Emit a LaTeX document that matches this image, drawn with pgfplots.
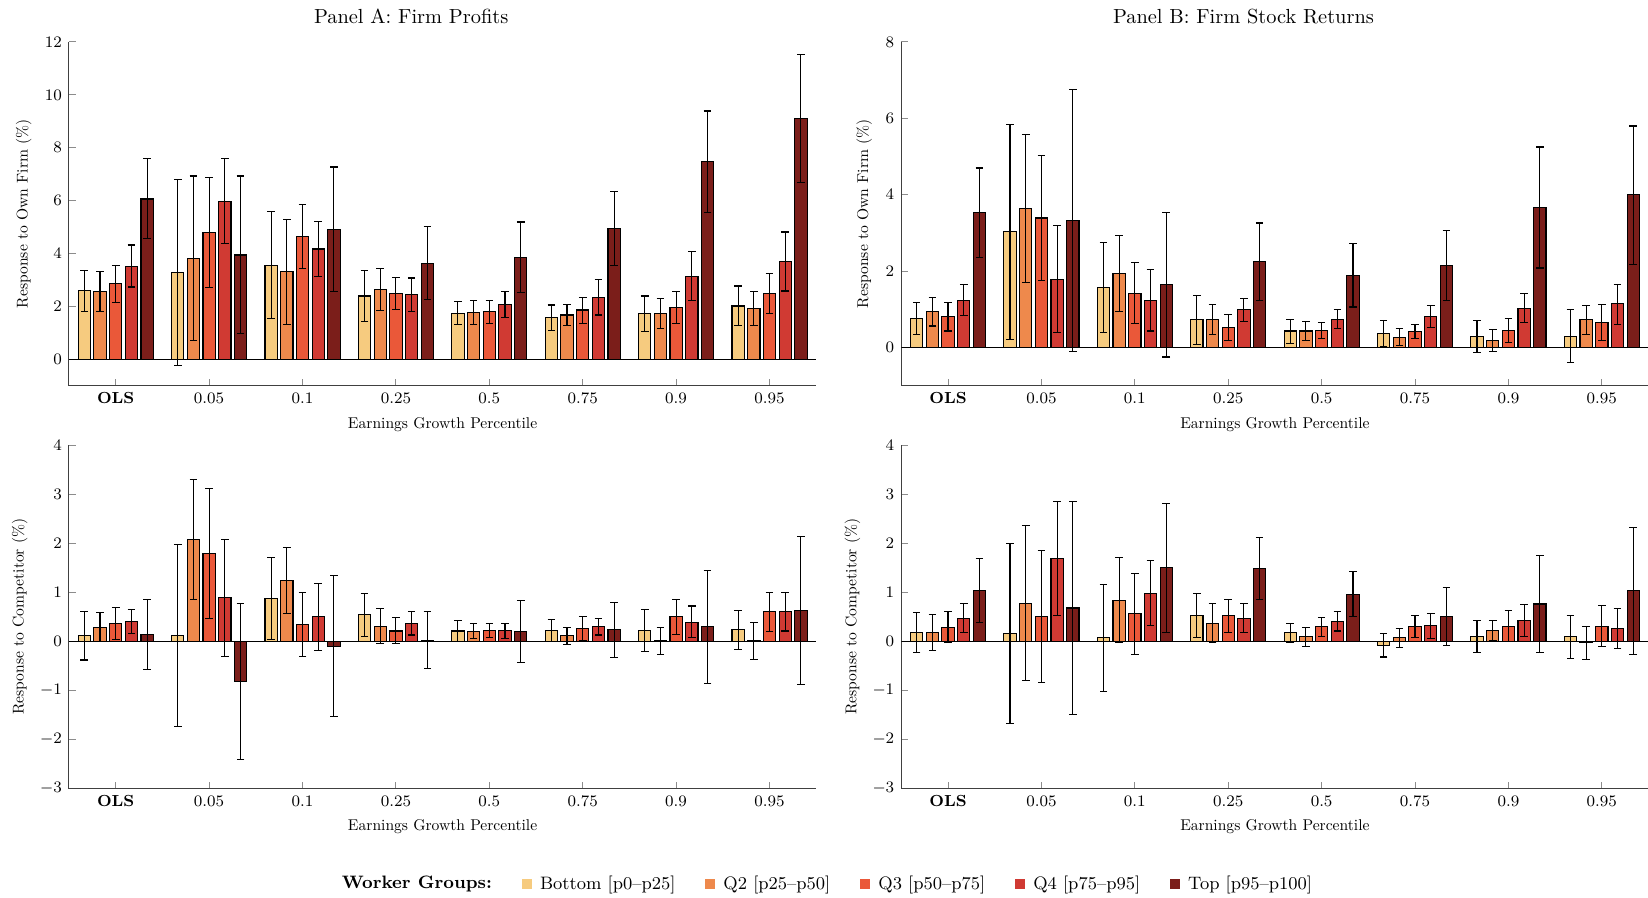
\documentclass[border=0pt]{standalone}
\usepackage{graphicx}
\usepackage{pgfplots}
\usepackage{pgfplotstable}
\pgfplotsset{compat=1.18}

\definecolor{cB}{HTML}{F6CB7F}
\definecolor{cQ}{HTML}{EE894C}
\definecolor{cR}{HTML}{EA5839}
\definecolor{cS}{HTML}{D03A33}
\definecolor{cT}{HTML}{7B1E1A}

% columns: x | Bottom (y hi lo) | Q2 | Q3 | Q4 | Top
\pgfplotstableread{
x b bh bl c ch cl d dh dl e eh el f fh fl
0 2.59 3.37 1.81  2.56 3.33 1.81  2.85 3.55 2.15  3.51 4.32 2.73  6.06 7.58 4.55
1 3.28 6.79 -0.24 3.81 6.93 0.71  4.79 6.86 2.71  5.97 7.58 4.37  3.94 6.93 0.96
2 3.56 5.59 1.54  3.30 5.30 1.30  4.63 5.85 3.43  4.17 5.21 3.12  4.91 7.27 2.55
3 2.39 3.35 1.44  2.64 3.42 1.84  2.50 3.08 1.89  2.44 3.07 1.81  3.62 5.01 2.26
4 1.74 2.18 1.31  1.78 2.23 1.31  1.81 2.23 1.36  2.07 2.56 1.59  3.86 5.19 2.51
5 1.58 2.05 1.07  1.67 2.07 1.28  1.86 2.35 1.36  2.35 3.03 1.67  4.96 6.36 3.56
6 1.72 2.39 1.05  1.74 2.31 1.16  1.97 2.56 1.36  3.14 4.07 2.23  7.47 9.39 5.56
7 2.01 2.77 1.26  1.93 2.55 1.29  2.47 3.24 1.72  3.70 4.81 2.58  9.10 11.53 6.70
}\tabA

\pgfplotstableread{
x b bh bl c ch cl d dh dl e eh el f fh fl
0 0.76 1.18 0.34  0.93 1.31 0.56  0.80 1.17 0.43  1.24 1.65 0.83  3.53 4.70 2.35
1 3.03 5.84 0.20  3.64 5.58 1.69  3.39 5.03 1.76  1.79 3.20 0.38  3.33 6.76 -0.10
2 1.57 2.75 0.39  1.94 2.93 0.93  1.42 2.22 0.63  1.24 2.04 0.43  1.64 3.54 -0.25
3 0.72 1.35 0.08  0.74 1.13 0.35  0.53 0.86 0.18  0.99 1.29 0.68  2.25 3.26 1.24
4 0.43 0.73 0.11  0.43 0.67 0.17  0.45 0.65 0.23  0.74 1.00 0.49  1.89 2.73 1.06
5 0.37 0.71 0.03  0.27 0.50 0.04  0.42 0.61 0.23  0.82 1.10 0.53  2.15 3.07 1.22
6 0.29 0.71 -0.14 0.19 0.47 -0.10 0.45 0.76 0.12  1.03 1.41 0.65  3.67 5.25 2.08
7 0.29 0.99 -0.40 0.72 1.09 0.35  0.66 1.13 0.17  1.14 1.65 0.61  4.00 5.80 2.18
}\tabB

\pgfplotstableread{
x b bh bl c ch cl d dh dl e eh el f fh fl
0 0.12 0.61 -0.38 0.29 0.58 -0.01 0.37 0.69 0.03  0.40 0.65 0.16  0.14 0.86 -0.58
1 0.12 1.98 -1.73 2.08 3.30 0.86  1.79 3.12 0.47  0.89 2.08 -0.31 -0.81 0.78 -2.40
2 0.88 1.70 0.04  1.24 1.92 0.56  0.35 0.99 -0.31 0.50 1.18 -0.19 -0.10 1.34 -1.53
3 0.54 0.97 0.09  0.31 0.67 -0.04 0.21 0.48 -0.05 0.37 0.60 0.13  0.02 0.60 -0.56
4 0.21 0.42 -0.01 0.20 0.36 0.05  0.22 0.37 0.07  0.22 0.37 0.06  0.20 0.84 -0.43
5 0.22 0.45 -0.01 0.11 0.29 -0.07 0.26 0.50 0.02  0.30 0.46 0.13  0.24 0.80 -0.33
6 0.22 0.65 -0.21 0.01 0.28 -0.26 0.50 0.86 0.14  0.39 0.72 0.07  0.30 1.45 -0.86
7 0.24 0.62 -0.16 0.01 0.38 -0.37 0.60 1.00 0.20  0.60 0.99 0.21  0.63 2.14 -0.88
}\tabC

\pgfplotstableread{
x b bh bl c ch cl d dh dl e eh el f fh fl
0 0.18 0.58 -0.22 0.18 0.54 -0.18 0.29 0.60 -0.03 0.47 0.77 0.18  1.03 1.68 0.39
1 0.16 1.99 -1.67 0.77 2.36 -0.80 0.51 1.85 -0.83 1.68 2.84 0.52  0.68 2.85 -1.49
2 0.07 1.15 -1.03 0.84 1.70 -0.02 0.56 1.38 -0.27 0.98 1.64 0.32  1.50 2.81 0.18
3 0.53 0.97 0.08  0.37 0.77 -0.03 0.52 0.85 0.18  0.47 0.77 0.18  1.49 2.11 0.86
4 0.18 0.37 -0.02 0.09 0.28 -0.10 0.30 0.49 0.10  0.41 0.60 0.21  0.96 1.43 0.50
5 -0.08 0.16 -0.32 0.07 0.26 -0.12 0.30 0.52 0.07 0.32 0.57 0.06  0.51 1.10 -0.08
6 0.10 0.42 -0.22 0.22 0.42 0.01  0.30 0.62 -0.01 0.43 0.75 0.10  0.76 1.75 -0.22
7 0.10 0.53 -0.35 -0.02 0.31 -0.37 0.31 0.73 -0.11 0.26 0.67 -0.15 1.03 2.32 -0.26
}\tabD

\newcommand{\lbl}[1]{\scalebox{0.78}{\normalsize #1}}

\pgfplotsset{
  panel/.style={
    scale only axis, width=373.6pt, height=171.8pt,
    anchor=north west,
    ybar=1.7pt, bar width=6.15pt,
    xmin=-0.5, xmax=7.5,
    xtick={0,...,7},
    xticklabels={\textbf{OLS},0.05,0.1,0.25,0.5,0.75,0.9,0.95},
    axis x line*=bottom, axis y line*=left,
    axis line style={-, black!75, line width=0.5pt},
    tick align=inside,
    major tick style={black!45, line width=0.5pt},
    major tick length=3.5pt,
    tick label style={font=\footnotesize},
    xlabel={\lbl{Earnings Growth Percentile}},
    xlabel style={at={(axis description cs:0.5,-0.114)}, anchor=center},
    title style={at={(0.458,1)}, anchor=base, yshift=3.2pt, font=\fontsize{10.2}{12}\selectfont},
  },
  grp/.style={fill=#1, draw=black, line width=0.55pt,
    error bars/.cd, y dir=both, y explicit,
    error bar style={black, line width=0.55pt},
    error mark options={rotate=90, black, line width=0.55pt, mark size=1.9pt}},
}

\newcommand{\fivebars}[1]{%
  \draw[black, line width=0.5pt] (axis cs:-0.5,0) -- (axis cs:7.5,0);
  \addplot[grp=cB] table[x=x, y=b, y error plus expr=\thisrow{bh}-\thisrow{b}, y error minus expr=\thisrow{b}-\thisrow{bl}]{#1};
  \addplot[grp=cQ] table[x=x, y=c, y error plus expr=\thisrow{ch}-\thisrow{c}, y error minus expr=\thisrow{c}-\thisrow{cl}]{#1};
  \addplot[grp=cR] table[x=x, y=d, y error plus expr=\thisrow{dh}-\thisrow{d}, y error minus expr=\thisrow{d}-\thisrow{dl}]{#1};
  \addplot[grp=cS] table[x=x, y=e, y error plus expr=\thisrow{eh}-\thisrow{e}, y error minus expr=\thisrow{e}-\thisrow{el}]{#1};
  \addplot[grp=cT] table[x=x, y=f, y error plus expr=\thisrow{fh}-\thisrow{f}, y error minus expr=\thisrow{f}-\thisrow{fl}]{#1};
}

\begin{document}
\begin{tikzpicture}

\begin{axis}[panel, at={(34.5pt,-21pt)},
  ymin=-1, ymax=12, ytick={0,2,...,12},
  title={Panel A: Firm Profits},
  ylabel={\lbl{Response to Own Firm (\%)}},
  ylabel style={at={(axis description cs:-0.0605,0.5)}, anchor=center}]
\fivebars{\tabA}
\end{axis}

\begin{axis}[panel, at={(450.65pt,-21pt)},
  ymin=-1, ymax=8, ytick={0,2,...,8},
  title={Panel B: Firm Stock Returns},
  ylabel={\lbl{Response to Own Firm (\%)}},
  ylabel style={at={(axis description cs:-0.0495,0.5)}, anchor=center}]
\fivebars{\tabB}
\end{axis}

\begin{axis}[panel, at={(34.5pt,-222.5pt)},
  xlabel style={at={(axis description cs:0.5,-0.110)}},
  ymin=-3, ymax=4, ytick={-3,...,4},
  ylabel={\lbl{Response to Competitor (\%)}},
  ylabel style={at={(axis description cs:-0.066,0.5)}, anchor=center}]
\fivebars{\tabC}
\end{axis}

\begin{axis}[panel, at={(450.65pt,-222.5pt)},
  xlabel style={at={(axis description cs:0.5,-0.110)}},
  ymin=-3, ymax=4, ytick={-3,...,4},
  ylabel={\lbl{Response to Competitor (\%)}},
  ylabel style={at={(axis description cs:-0.0655,0.5)}, anchor=center}]
\fivebars{\tabD}
\end{axis}

% legend
\begin{axis}[at={(412.5pt,-442pt)}, anchor=center, hide axis, scale only axis,
  width=10pt, height=10pt, xmin=0, xmax=1, ymin=0, ymax=1,
  legend columns=-1,
  legend image code/.code={\fill[#1] (0pt,-2.6pt) rectangle (5.2pt,2.6pt);},
  legend style={at={(0.5,0.5)}, anchor=center, draw=none, fill=none, font=\small,
    /tikz/every odd column/.append style={column sep=2pt},
    /tikz/every even column/.append style={column sep=12.8pt}}]
\addlegendimage{empty legend}
\addlegendentry{\textbf{Worker Groups:}}
\addlegendimage{fill=cB, draw=none}
\addlegendentry{Bottom [p0--p25]}
\addlegendimage{fill=cQ, draw=none}
\addlegendentry{Q2 [p25--p50]}
\addlegendimage{fill=cR, draw=none}
\addlegendentry{Q3 [p50--p75]}
\addlegendimage{fill=cS, draw=none}
\addlegendentry{Q4 [p75--p95]}
\addlegendimage{fill=cT, draw=none}
\addlegendentry{Top [p95--p100]}
\end{axis}

\pgfresetboundingbox
\path (0pt,0pt) rectangle (824pt,-449pt);
\end{tikzpicture}
\end{document}
